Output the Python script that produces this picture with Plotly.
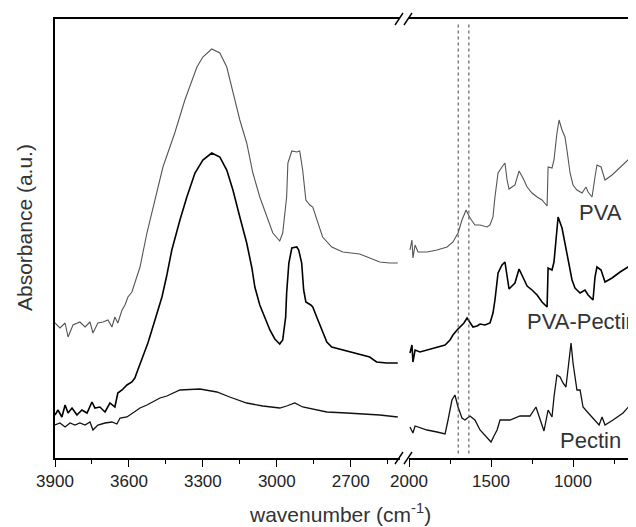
import plotly.graph_objects as go

# ---------------- data ----------------
# left panel: 3900-2500 cm-1
pva_left_wn = [3900, 3880, 3859, 3847, 3827, 3799, 3778, 3758, 3746, 3726, 3705, 3685, 3669, 3657, 3645,
               3628, 3616, 3604, 3588, 3555, 3527, 3495, 3462, 3414, 3373, 3324, 3300, 3264, 3231, 3203,
               3178, 3150, 3122, 3097, 3069, 3041, 3016, 2988, 2976, 2960, 2955, 2939, 2919, 2907, 2895,
               2882, 2866, 2854, 2838, 2814, 2777, 2732, 2664, 2623, 2582, 2542, 2509]
pva_left_abs = [1.35, 1.30, 1.35, 1.21, 1.33, 1.36, 1.31, 1.36, 1.25, 1.35, 1.36, 1.38, 1.31, 1.41, 1.35,
                1.48, 1.53, 1.61, 1.66, 1.91, 2.25, 2.58, 2.91, 3.25, 3.58, 3.91, 4.01, 4.09, 4.05, 3.91,
                3.65, 3.38, 3.15, 2.85, 2.61, 2.41, 2.25, 2.17, 2.25, 2.61, 2.95, 3.07, 3.06, 3.07, 2.88,
                2.58, 2.53, 2.51, 2.38, 2.21, 2.11, 2.06, 2.04, 2.00, 1.96, 1.95, 1.95]

blend_left_wn = [3900, 3888, 3872, 3859, 3847, 3831, 3811, 3791, 3770, 3750, 3738, 3718, 3697, 3677, 3657,
                 3645, 3628, 3608, 3588, 3576, 3564, 3543, 3523, 3503, 3486, 3466, 3446, 3426, 3393, 3365,
                 3332, 3300, 3264, 3231, 3203, 3178, 3150, 3122, 3101, 3089, 3069, 3049, 3028, 3008, 2988,
                 2976, 2964, 2960, 2951, 2939, 2919, 2911, 2899, 2891, 2882, 2862, 2854, 2838, 2818, 2797,
                 2777, 2745, 2692, 2655, 2623, 2595, 2554, 2509]
blend_left_abs = [0.43, 0.48, 0.41, 0.53, 0.45, 0.50, 0.43, 0.48, 0.45, 0.56, 0.50, 0.51, 0.46, 0.55, 0.51,
                  0.65, 0.68, 0.73, 0.76, 0.80, 0.88, 1.01, 1.15, 1.31, 1.45, 1.61, 1.83, 2.08, 2.38, 2.61,
                  2.85, 2.98, 3.05, 3.01, 2.88, 2.68, 2.41, 2.15, 1.90, 1.71, 1.53, 1.40, 1.28, 1.19, 1.14,
                  1.18, 1.41, 1.65, 1.95, 2.10, 2.11, 2.08, 1.95, 1.68, 1.56, 1.53, 1.51, 1.41, 1.28, 1.16,
                  1.11, 1.09, 1.06, 1.03, 1.01, 0.96, 0.95, 0.95]

pectin_left_wn = [3900, 3880, 3859, 3839, 3819, 3799, 3778, 3758, 3746, 3726, 3697, 3669, 3649, 3636, 3608,
                  3584, 3555, 3527, 3503, 3474, 3446, 3422, 3393, 3312, 3243, 3191, 3122, 3057, 2988, 2960,
                  2927, 2895, 2838, 2797, 2716, 2651, 2582, 2509]
pectin_left_abs = [0.33, 0.35, 0.31, 0.35, 0.33, 0.35, 0.33, 0.36, 0.28, 0.33, 0.35, 0.36, 0.34, 0.40, 0.41,
                   0.45, 0.50, 0.53, 0.56, 0.60, 0.62, 0.65, 0.68, 0.69, 0.66, 0.61, 0.55, 0.52, 0.50, 0.52,
                   0.55, 0.51, 0.48, 0.46, 0.45, 0.44, 0.43, 0.41]

# right panel: 2000-~615 cm-1
pva_right_wn = [1994, 1982, 1976, 1963, 1945, 1890, 1829, 1768, 1732, 1701, 1677, 1652, 1628, 1598, 1567,
                1524, 1506, 1488, 1476, 1457, 1433, 1415, 1402, 1390, 1372, 1354, 1329, 1305, 1280, 1250,
                1219, 1189, 1158, 1152, 1128, 1116, 1098, 1085, 1067, 1049, 1037, 1018, 1000, 976, 945,
                921, 908, 884, 866, 854, 829, 805, 762, 713, 665, 616]
pva_right_abs = [2.08, 2.18, 2.00, 2.13, 2.06, 2.06, 2.08, 2.11, 2.16, 2.25, 2.38, 2.48, 2.40, 2.33, 2.33,
                 2.31, 2.33, 2.41, 2.61, 2.85, 2.91, 2.95, 2.78, 2.69, 2.71, 2.73, 2.87, 2.80, 2.71, 2.65,
                 2.61, 2.58, 2.52, 2.91, 2.90, 2.98, 3.25, 3.38, 3.28, 3.21, 3.08, 2.85, 2.73, 2.68, 2.65,
                 2.71, 2.66, 2.61, 2.81, 2.93, 2.91, 2.78, 2.83, 2.91, 2.98, 3.03]

blend_right_wn = [1994, 1982, 1976, 1963, 1933, 1854, 1780, 1750, 1732, 1707, 1689, 1665, 1646, 1628, 1610,
                  1585, 1567, 1537, 1506, 1488, 1476, 1457, 1433, 1415, 1402, 1390, 1372, 1354, 1329, 1305,
                  1280, 1250, 1219, 1189, 1158, 1152, 1128, 1116, 1098, 1091, 1067, 1049, 1030, 1006, 988,
                  957, 927, 908, 878, 866, 854, 829, 805, 762, 713, 665, 616]
blend_right_abs = [1.05, 1.13, 0.96, 1.08, 1.06, 1.10, 1.13, 1.18, 1.23, 1.28, 1.31, 1.35, 1.40, 1.36, 1.31,
                   1.32, 1.34, 1.33, 1.35, 1.45, 1.58, 1.85, 1.93, 1.96, 1.81, 1.69, 1.72, 1.75, 1.89, 1.80,
                   1.72, 1.68, 1.63, 1.56, 1.51, 1.90, 1.88, 1.96, 2.25, 2.41, 2.30, 2.15, 1.98, 1.78, 1.70,
                   1.65, 1.68, 1.63, 1.58, 1.81, 1.91, 1.88, 1.76, 1.80, 1.86, 1.91, 1.96]

pectin_right_wn = [1994, 1976, 1963, 1890, 1829, 1780, 1762, 1738, 1720, 1701, 1677, 1659, 1628, 1598, 1567,
                   1524, 1500, 1482, 1463, 1445, 1384, 1323, 1262, 1226, 1201, 1177, 1152, 1128, 1116, 1098,
                   1079, 1061, 1043, 1030, 1012, 1000, 976, 957, 939, 896, 866, 841, 823, 805, 756, 695, 652, 616]
pectin_right_abs = [0.31, 0.25, 0.32, 0.28, 0.26, 0.24, 0.38, 0.58, 0.63, 0.51, 0.40, 0.38, 0.42, 0.38, 0.28,
                    0.20, 0.16, 0.22, 0.28, 0.38, 0.38, 0.42, 0.42, 0.51, 0.38, 0.27, 0.48, 0.41, 0.61, 0.83,
                    0.81, 0.75, 0.71, 0.91, 1.15, 0.95, 0.68, 0.68, 0.51, 0.43, 0.38, 0.33, 0.41, 0.33, 0.38,
                    0.45, 0.53, 0.65]

left_ticks = [3900, 3600, 3300, 3000, 2700]
right_ticks = [2000, 1500, 1000]
marker_lines_wn = [1700, 1635]
series_labels = ["PVA", "PVA-Pectin", "Pectin"]

# ---------------- figure ----------------
FONT = "Liberation Sans, Arial, sans-serif"
fig = go.Figure()

styles = [
    ("#555555", 1.1, pva_left_wn, pva_left_abs, pva_right_wn, pva_right_abs),
    ("#000000", 1.6, blend_left_wn, blend_left_abs, blend_right_wn, blend_right_abs),
    ("#111111", 1.3, pectin_left_wn, pectin_left_abs, pectin_right_wn, pectin_right_abs),
]
for name, (col, w, lx, ly, rx, ry) in zip(series_labels, styles):
    fig.add_trace(go.Scatter(x=lx, y=ly, mode="lines", line=dict(color=col, width=w),
                             xaxis="x", yaxis="y", showlegend=False, name=name, hoverinfo="skip"))
    fig.add_trace(go.Scatter(x=rx, y=ry, mode="lines", line=dict(color=col, width=w),
                             xaxis="x2", yaxis="y", showlegend=False, name=name, hoverinfo="skip"))

# page-pixel geometry (the page body adds an 8 px margin at left/top)
PAGE_OFF = 8
PLOT_LEFT, PLOT_TOP, PLOT_BOTTOM, PAGE_W, PAGE_H = 55, 19, 458, 636, 527
W = PAGE_W - PAGE_OFF
H = PAGE_H - PAGE_OFF
L = PLOT_LEFT - PAGE_OFF
T = PLOT_TOP - PAGE_OFF
B = PAGE_H - PLOT_BOTTOM
R = 0
pw = W - L - R
ph = H - T - B


def px_to_paper_x(px):
    return (px - PLOT_LEFT) / pw


def py_to_paper_y(py):
    return (PLOT_BOTTOM - py) / ph


split_left = px_to_paper_x(400)
split_right = px_to_paper_x(409)

axis_common = dict(showline=True, linecolor="black", linewidth=1.5, mirror=True,
                   ticks="outside", ticklen=7, tickwidth=1.2, tickcolor="black",
                   showgrid=False, zeroline=False,
                   tickfont=dict(family=FONT, size=17, color="#222222"))

fig.update_layout(
    width=W, height=H,
    margin=dict(l=L, r=R, t=T, b=B),
    paper_bgcolor="white", plot_bgcolor="white",
    xaxis=dict(domain=[0, split_left], range=[3900, 2500], tickmode="array",
               tickvals=left_ticks, ticktext=[str(v) for v in left_ticks],
               minor=dict(dtick=150, tick0=2550, ticks="outside", ticklen=4, tickcolor="black"),
               **axis_common),
    xaxis2=dict(domain=[split_right, 1], range=[2000, 616], anchor="y", tickmode="array",
                tickvals=right_ticks, ticktext=[str(v) for v in right_ticks],
                minor=dict(dtick=250, tick0=750, ticks="outside", ticklen=4, tickcolor="black"),
                **axis_common),
    yaxis=dict(range=[0, ph / 100], showline=True, linecolor="black", linewidth=1.5,
               showticklabels=False, ticks="", showgrid=False, zeroline=False),
)

# dotted marker lines
for wn in marker_lines_wn:
    fig.add_shape(type="line", xref="x2", yref="paper", x0=wn, x1=wn, y0=0.01, y1=0.99,
                  line=dict(color="#555555", width=1.1, dash="dot"))

# axis break marks (bottom and top)
dy = 6 / ph
for yc in (0, 1):
    for cx in (399, 408):
        fig.add_shape(type="line", xref="paper", yref="paper",
                      x0=px_to_paper_x(cx - 4), x1=px_to_paper_x(cx + 4),
                      y0=yc - dy, y1=yc + dy, line=dict(color="black", width=1.4))

# series labels
label_pos = [(600, 212, "center"), (525, 321, "left"), (590, 440, "center")]
for text, (lx, ly, anch) in zip(series_labels, label_pos):
    fig.add_annotation(text=text, xref="paper", yref="paper",
                       x=px_to_paper_x(lx), y=py_to_paper_y(ly), xanchor=anch, yanchor="middle",
                       showarrow=False, font=dict(family=FONT, size=22, color="#333333"))

# axis titles
fig.add_annotation(text="wavenumber (cm<sup>-1</sup>)", xref="paper", yref="paper",
                   x=px_to_paper_x(340), y=py_to_paper_y(513), xanchor="center", yanchor="middle",
                   showarrow=False, font=dict(family=FONT, size=21, color="#333333"))
fig.add_annotation(text="Absorbance (a.u.)", xref="paper", yref="paper", textangle=-90,
                   x=px_to_paper_x(24), y=py_to_paper_y(228), xanchor="center", yanchor="middle",
                   showarrow=False, font=dict(family=FONT, size=21, color="#333333"))

fig.write_html("out.html")
